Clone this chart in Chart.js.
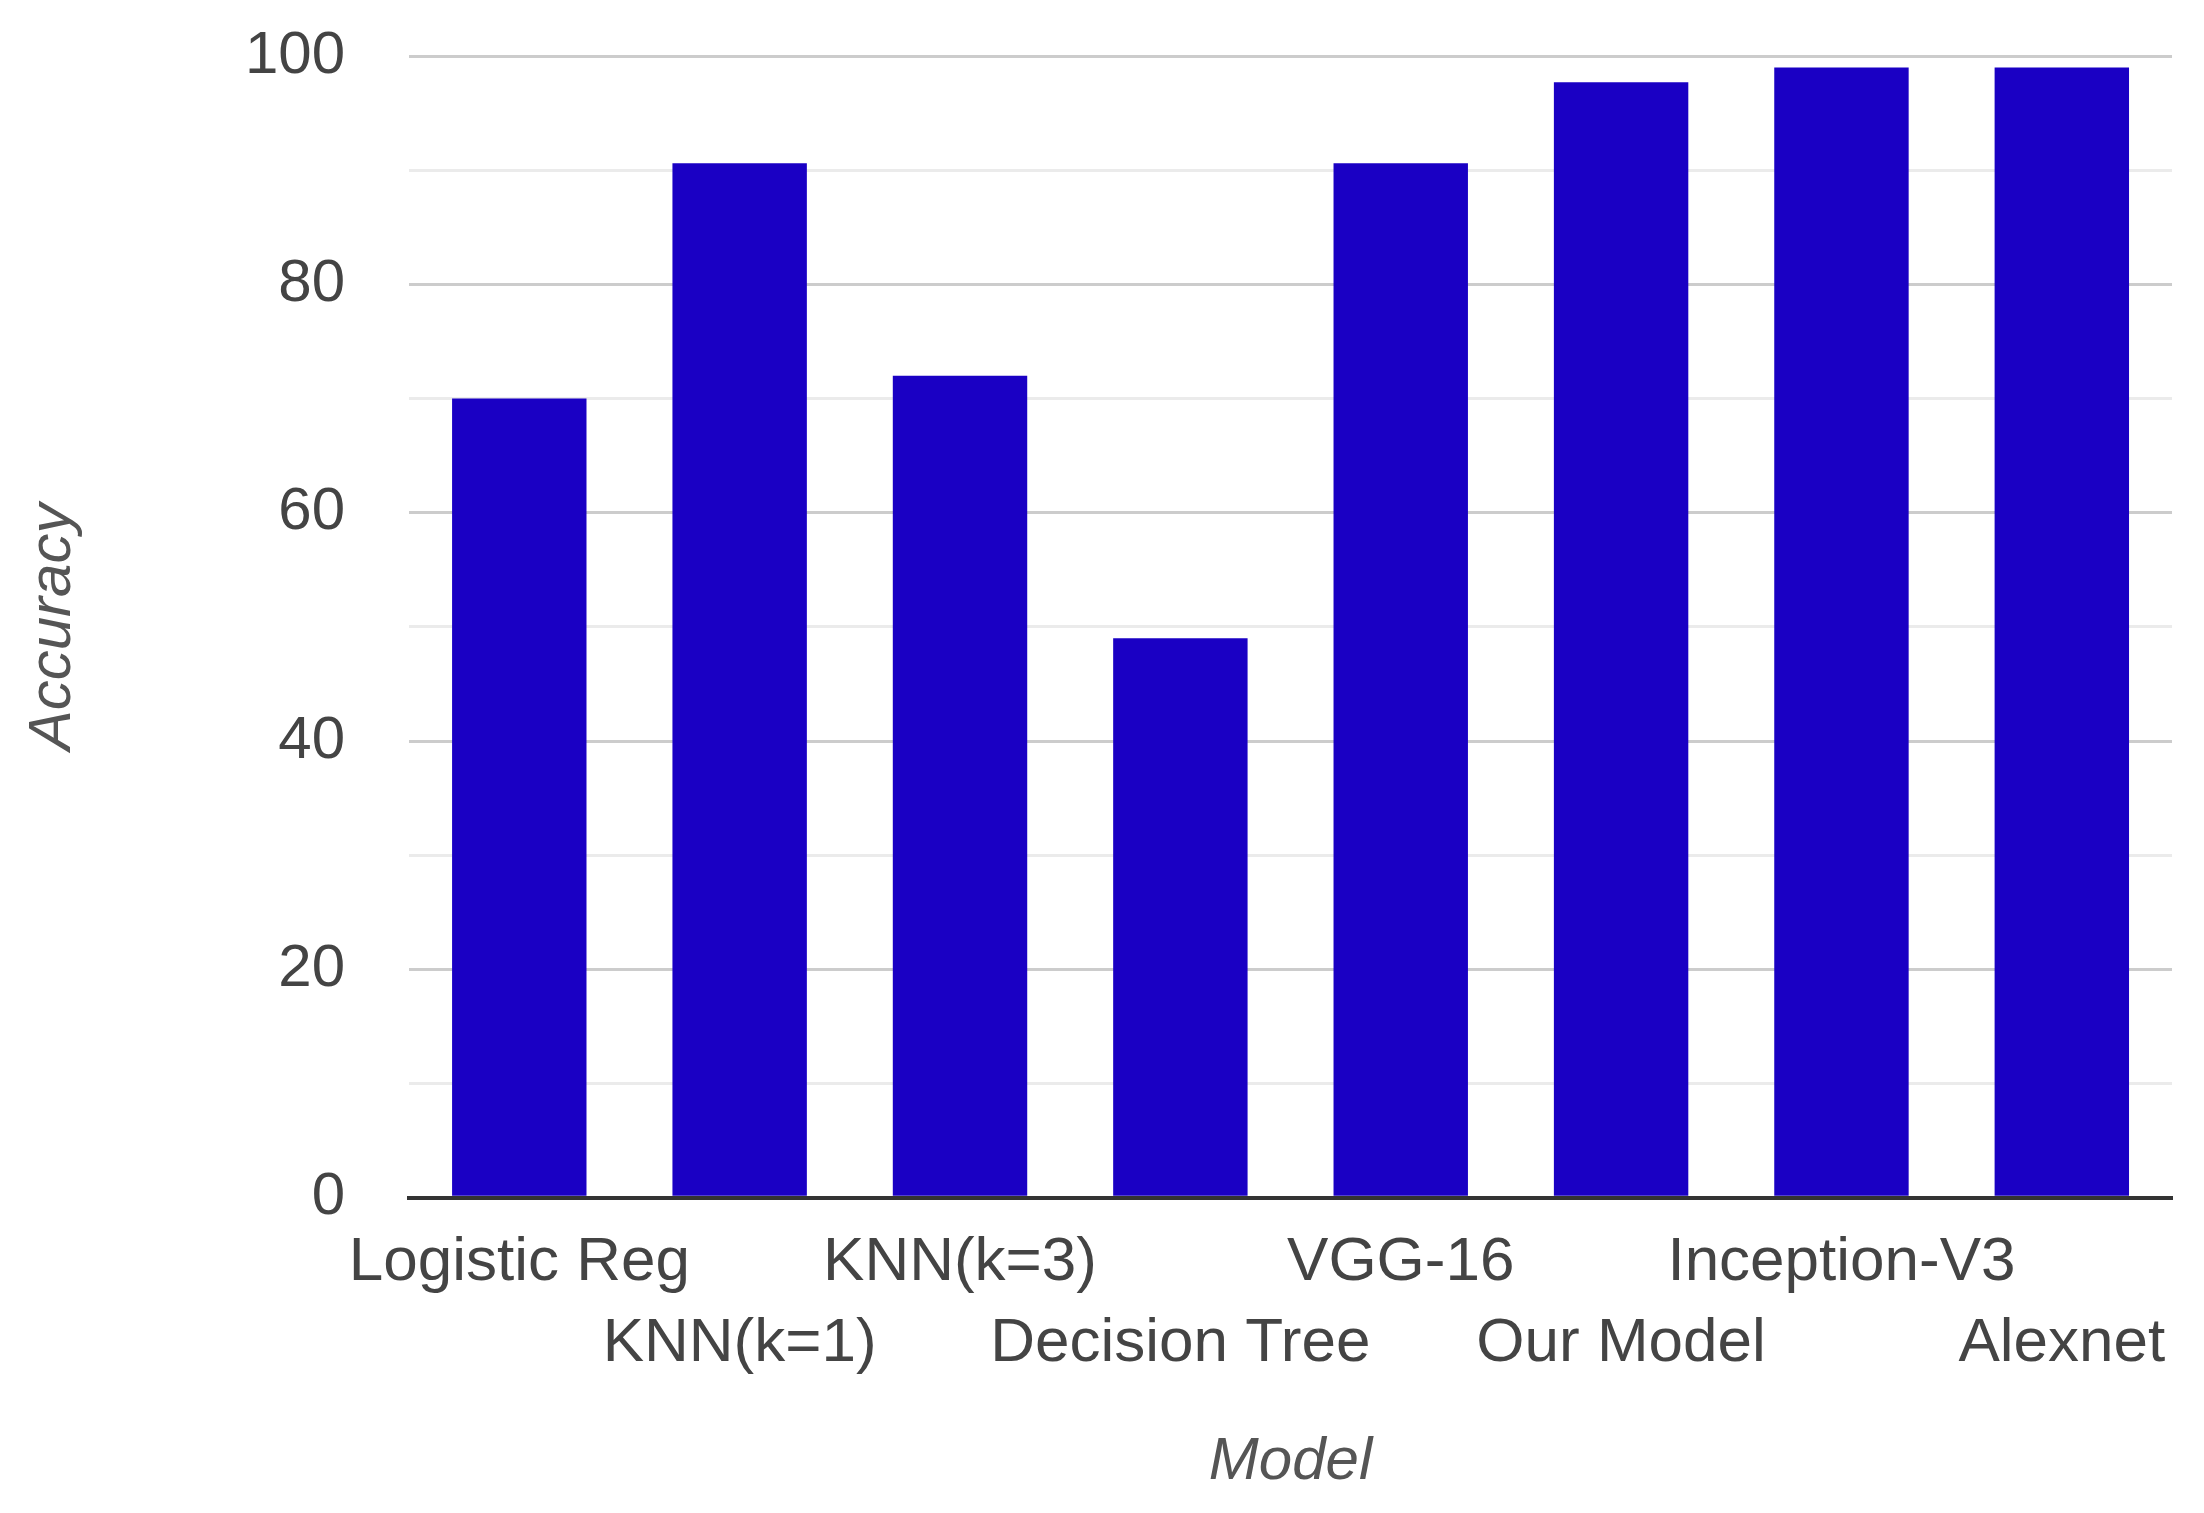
<!DOCTYPE html>
<html>
<head>
<meta charset="utf-8">
<script src="https://cdn.jsdelivr.net/npm/chart.js@4"></script>
<style>
  html, body { margin: 0; padding: 0; background: #fff; }
  #wrap { width: 2204px; height: 1513px; }
</style>
</head>
<body>
<div id="wrap"><canvas id="accChart"></canvas></div>
<script>
// model names and accuracy (%)
const models = ['Logistic Reg', 'KNN(k=1)', 'KNN(k=3)', 'Decision Tree', 'VGG-16', 'Our Model', 'Inception-V3', 'Alexnet'];
const accuracy = [70, 90.6, 72, 49, 90.6, 97.7, 99, 99];
const yTicks = [0, 20, 40, 60, 80, 100];

// labels alternate between two rows, like the original
const staggered = models.map((m, i) => i % 2 === 0 ? [m, ''] : ['', m]);

let ctx = document.getElementById('accChart').getContext('2d');

new Chart(ctx, {
    type: 'bar',
    data: {
        labels: staggered,
        datasets: [{
            label: 'Accuracy',
            data: accuracy,
            backgroundColor: '#1a00c4',
            categoryPercentage: 0.61,
            barPercentage: 1
        }]
    },
    options: {
        responsive: true,
        maintainAspectRatio: false,
        animation: false,
        layout: {
            padding: { top: 0, right: 32, bottom: 15, left: 10 }
        },
        plugins: {
            legend: { display: false },
            tooltip: { enabled: false }
        },
        scales: {
            x: {
                grid: { display: false, drawTicks: false },
                border: { color: '#333', width: 4 },
                ticks: {
                    color: '#444',
                    font: { family: 'Liberation Sans', size: 62, lineHeight: 1.3 },
                    maxRotation: 0,
                    autoSkip: false,
                    padding: 25
                },
                title: {
                    display: true,
                    text: 'Model',
                    color: '#555',
                    font: { family: 'Liberation Sans', size: 60, style: 'italic' },
                    padding: { top: 17, bottom: 0 }
                }
            },
            y: {
                min: 0,
                max: 100,
                border: { display: false },
                grid: {
                    drawTicks: false,
                    color: c => c.tick.value === 0 ? '#333' : (c.tick.value % 20 === 0 ? '#cccccc' : '#ebebeb'),
                    lineWidth: c => c.tick.value === 0 ? 4 : 3
                },
                ticks: {
                    stepSize: 10,
                    color: '#444',
                    font: { family: 'Liberation Sans', size: 60 },
                    padding: 64,
                    callback: v => yTicks.includes(v) ? v : ''
                },
                title: {
                    display: true,
                    text: 'Accuracy',
                    color: '#555',
                    font: { family: 'Liberation Sans', size: 60, style: 'italic' },
                    padding: { top: 7, bottom: 92 }
                },
                // keep the plot top close to the canvas edge
                afterFit: s => { s.paddingTop = 56; }
            }
        }
    }
});
</script>
</body>
</html>
